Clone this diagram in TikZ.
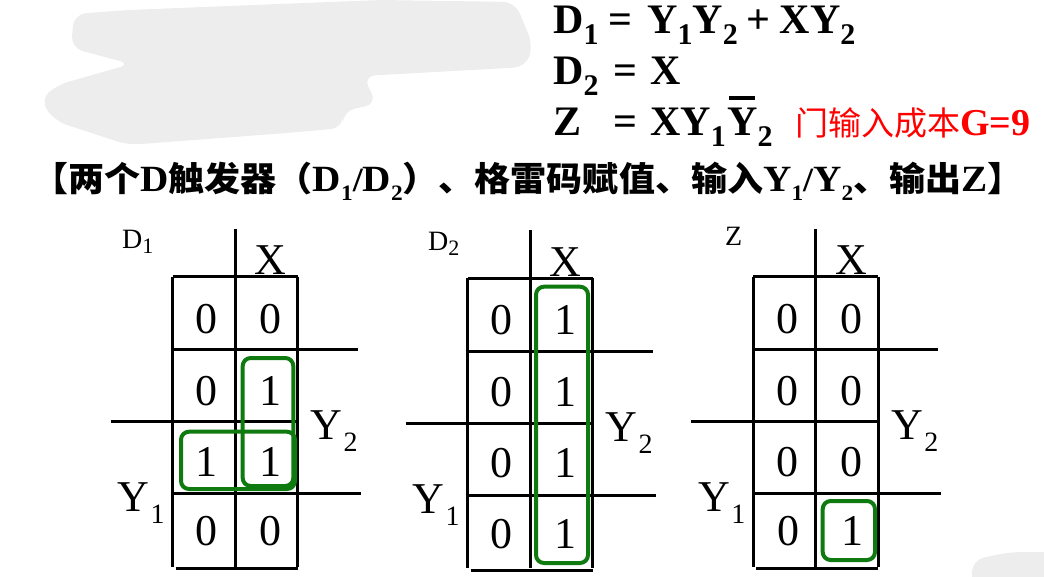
\documentclass[tikz,border=0pt]{standalone}
\usepackage{fontspec}
\setmainfont{Liberation Serif}
\newfontfamily\cjk{Noto Sans CJK SC}
\newcommand{\fs}[1]{\fontsize{#1}{#1}\selectfont}
\newcommand{\lsub}[2]{#1\kern1pt\raisebox{-12pt}{\fs{28}#2}}
\newcommand{\esub}[2]{#1\raisebox{-11pt}{\fs{30}#2}}
\newcommand{\tsub}[2]{{\fs{37}#1}\raisebox{-9pt}{\fs{22}#2}}
\definecolor{blobgray}{HTML}{EDEDED}
\definecolor{kgreen}{HTML}{0F7A0F}
\tikzset{
  grid/.style={line width=3pt},
  grp/.style={draw=kgreen, line width=4pt, rounded corners=8pt},
  digit/.style={font=\fs{44}, inner sep=0pt},
  lab/.style={font=\fs{44}, inner sep=0pt, anchor=base west},
  eq/.style={font=\fs{42}\bfseries, inner sep=0pt, anchor=base west},
  corner/.style={font=\fs{28}, inner sep=0pt, anchor=base west},
}
\newcommand{\kmap}[8]{%
  \begin{scope}[shift={(#1,#2)}]
    \draw[grid] (0,0) -- (125,0);
    \draw[grid] (0,0) -- (0,290);
    \draw[grid] (125,0) -- (125,290);
    \draw[grid] (62.5,-48) -- (62.5,290);
    \draw[grid] (0,73) -- (185,73);
    \draw[grid] (-62,145) -- (125,145);
    \draw[grid] (0,217) -- (188,217);
    \draw[grid] (3,292) -- (125,292);
    \node[lab] at (82,-2) {X};
    \node[lab] at (138,163) {\lsub{Y}{2}};
    \node[lab] at (-55,235) {\lsub{Y}{1}};
    \node[digit] at (34,42) {#3};
    \node[digit] at (98,42) {#4};
    \node[digit] at (34,114) {#5};
    \node[digit] at (98,114) {#6};
    \node[digit] at (34,185) {#7};
    \node[digit] at (98,185) {#8};
  \end{scope}}
\begin{document}
\begin{tikzpicture}[x=1pt,y=-1pt]
\useasboundingbox (0,0) rectangle (1044,576);
% redaction blobs
\fill[blobgray, rounded corners=12pt] (74,14) -- (128,10) -- (380,0) -- (515,2) -- (533,45) -- (526,67) -- (363,76) -- (377,104) -- (343,111) -- (343,128) -- (287,133) -- (128,145) -- (55,121) -- (40,100) -- (57,85) -- (131,64) -- (71,48) -- (73,26) -- cycle;
\fill[blobgray, rounded corners=12pt] (972,590) -- (972,560) -- (1010,552) -- (1060,552) -- (1060,590) -- cycle;
% equations
\node[eq] (d1) at (553,33) {\esub{D}{1}};
\node[eq] (e1) at (608,33) {=};
\node[eq] (r1) at (647,33) {\esub{Y}{1}\esub{Y}{2}\kern9pt+\kern9pt X\esub{Y}{2}};
\node[eq] (d2) at (553,84) {\esub{D}{2}};
\node[eq] (e2) at (613,84) {=};
\node[eq] (r2) at (650,84) {X};
\node[eq] (z) at (553,135) {Z};
\node[eq] (e3) at (613,135) {=};
\node[eq] (r3) at (650,135) {X\esub{Y}{1}};
\node[eq] (r3b) at (727,135) {\esub{Y}{2}};
\draw[line width=4pt] (729,98) -- (755,98);
\node[inner sep=0pt, anchor=base west, text=red] (cost) at (795,135) {{\cjk\fs{33}门输入成本}{\fs{38}\bfseries G=9}};
% title
\node[inner sep=0pt, anchor=west] (title) at (32,181) {\scalebox{1.06}[1]{\fs{34}\bfseries{\cjk 【两个}{\fs{37}D}{\cjk 触发器（}\tsub{D}{1}/\tsub{D}{2}{\cjk ）、格雷码赋值、输入}\tsub{Y}{1}/\tsub{Y}{2}{\cjk 、输出}{\fs{37}Z}{\cjk 】}}};
% K-maps
\kmap{172.7}{276.7}{0}{0}{0}{1}{1}{1}
\node[digit] at (206.7,530.7) {0};
\node[digit] at (270.7,530.7) {0};
\node[corner] (l1) at (122,248) {D\raisebox{-5pt}{\fs{22}1}};
\draw[grp] (242.7,358) rectangle (293.3,486);
\draw[grp] (181,431.7) rectangle (295,489);
\kmap{467.7}{278.3}{0}{1}{0}{1}{0}{1}
\node[digit] at (501.7,534.3) {0};
\node[digit] at (565.7,534.3) {1};
\node[corner] (l2) at (428,250) {D\raisebox{-5pt}{\fs{22}2}};
\draw[grp] (536,286.7) rectangle (588,563);
\kmap{753.3}{276.7}{0}{0}{0}{0}{0}{0}
\node[digit] at (788.3,530.7) {0};
\node[digit] at (852.3,530.7) {1};
\node[corner] (l3) at (725,245) {Z};
\draw[grp] (822.7,501) rectangle (875,560);
\end{tikzpicture}
\end{document}
